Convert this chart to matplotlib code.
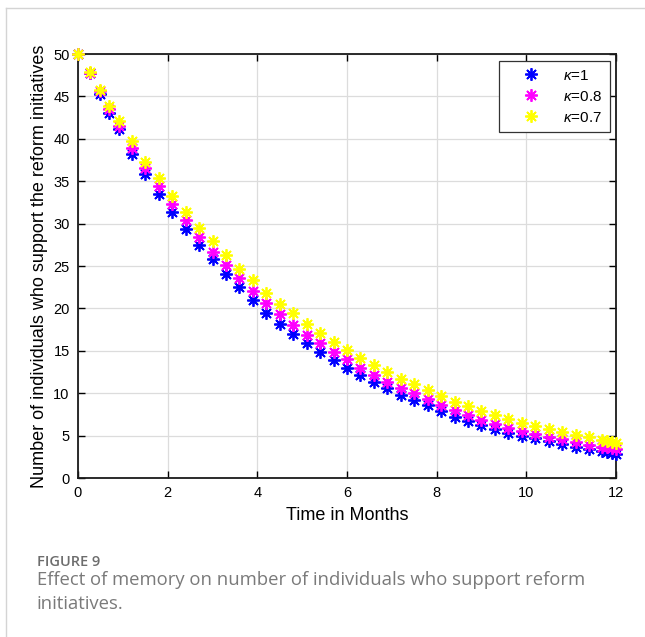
import numpy as np
import matplotlib
matplotlib.use("Agg")
import matplotlib.pyplot as plt
from matplotlib.lines import Line2D

# ── Data ──────────────────────────────────────────────────────────────────────
t_months = [0, 0.26, 0.48, 0.70, 0.92, 1.2, 1.5, 1.8, 2.1, 2.4, 2.7, 3.0, 3.3,
            3.6, 3.9, 4.2, 4.5, 4.8, 5.1, 5.4, 5.7, 6.0, 6.3, 6.6, 6.9, 7.2,
            7.5, 7.8, 8.1, 8.4, 8.7, 9.0, 9.3, 9.6, 9.9, 10.2, 10.5, 10.8,
            11.1, 11.4, 11.68, 11.79, 11.9, 12.0]

support_k1 = [50, 47.8, 45.3, 43.1, 41.1, 38.2, 35.8, 33.5, 31.4, 29.4, 27.5,
              25.8, 24.0, 22.5, 21.0, 19.5, 18.2, 17.0, 15.9, 14.9, 13.9, 13.0,
              12.1, 11.3, 10.6, 9.8, 9.2, 8.55, 7.85, 7.25, 6.7, 6.2, 5.75, 5.3,
              5.0, 4.7, 4.35, 4.0, 3.7, 3.4, 3.15, 3.05, 2.95, 2.85]

support_k08 = [50, 47.8, 45.6, 43.5, 41.5, 38.9, 36.5, 34.4, 32.3, 30.4, 28.4,
               26.7, 25.1, 23.6, 22.1, 20.6, 19.3, 18.1, 16.9, 15.9, 14.9, 14.0,
               13.0, 12.1, 11.3, 10.6, 10.0, 9.3, 8.6, 8.0, 7.4, 6.85, 6.35,
               5.9, 5.5, 5.2, 4.85, 4.55, 4.25, 3.95, 3.7, 3.6, 3.5, 3.4]

support_k07 = [50, 47.9, 45.8, 43.9, 42.1, 39.7, 37.3, 35.4, 33.3, 31.4, 29.5,
               27.9, 26.3, 24.7, 23.3, 21.8, 20.5, 19.4, 18.2, 17.1, 16.0, 15.1,
               14.2, 13.3, 12.5, 11.7, 11.1, 10.4, 9.7, 9.0, 8.45, 7.9, 7.4,
               6.9, 6.5, 6.1, 5.75, 5.4, 5.1, 4.8, 4.5, 4.4, 4.3, 4.15]

series_labels = [r"$\kappa$=1", r"$\kappa$=0.8", r"$\kappa$=0.7"]
series_colors = ["#0000ff", "#ff00ff", "#ffff00"]

x_ticks = [0, 2, 4, 6, 8, 10, 12]
y_ticks = [0, 5, 10, 15, 20, 25, 30, 35, 40, 45, 50]

# ── Figure ────────────────────────────────────────────────────────────────────
plt.rcParams["font.family"] = ["Liberation Sans", "DejaVu Sans"]
plt.rcParams["mathtext.fontset"] = "custom"
plt.rcParams["mathtext.it"] = "Liberation Sans:italic"

fig = plt.figure(figsize=(6.45, 6.37), dpi=100)
W, H = 645, 637

# card border (top + left)
fig.add_artist(Line2D([6 / W, 6 / W], [0, 1 - 8 / H], transform=fig.transFigure,
                      color="#d4d4d4", lw=1.0))
fig.add_artist(Line2D([6 / W, 1], [1 - 8 / H, 1 - 8 / H], transform=fig.transFigure,
                      color="#d4d4d4", lw=1.0))

ax = fig.add_axes([78 / W, 1 - 478 / H, (616 - 78) / W, (478 - 54) / H])

asterisk = (8, 2, 0)
for ys, lab, col in zip([support_k1, support_k08, support_k07], series_labels, series_colors):
    ax.plot(t_months, ys, linestyle="none", marker=asterisk, markersize=9,
            markeredgewidth=1.3, color=col, label=lab, clip_on=False, zorder=3)

ax.set_xlim(0, 12)
ax.set_ylim(0, 50)
ax.set_xticks(x_ticks)
ax.set_yticks(y_ticks)
ax.tick_params(direction="in", length=5, width=1.0, top=True, right=True,
               labelsize=10.5, pad=6)
ax.grid(True, color="#dcdcdc", linewidth=0.9)
ax.set_axisbelow(True)
for sp in ax.spines.values():
    sp.set_linewidth(1.3)
    sp.set_color("#1a1a1a")

ax.set_xlabel("Time in Months", fontsize=13, labelpad=5)
ax.set_ylabel("Number of individuals who support the reform initiatives",
              fontsize=13, labelpad=4)

leg = ax.legend(loc="upper right", bbox_to_anchor=(0.988, 0.983), fontsize=11,
                frameon=True, fancybox=False, framealpha=1, edgecolor="#333333",
                handlelength=3.2, handletextpad=0.5, borderpad=0.5,
                labelspacing=0.45, borderaxespad=0)
leg.get_frame().set_linewidth(0.9)

# caption
fig.text(37 / W, 1 - 566 / H, "FIGURE 9", fontsize=10.5, color="#6d6d6d",
         family=["Open Sans", "DejaVu Sans"], fontweight="semibold", va="baseline")
fig.text(37 / W, 1 - 585 / H, "Effect of memory on number of individuals who support reform",
         fontsize=13.3, color="#7a7a7a", family=["Open Sans", "DejaVu Sans"], va="baseline")
fig.text(37 / W, 1 - 609 / H, "initiatives.",
         fontsize=13.3, color="#7a7a7a", family=["Open Sans", "DejaVu Sans"], va="baseline")

fig.savefig("out.png", dpi=100)
plt.close(fig)
